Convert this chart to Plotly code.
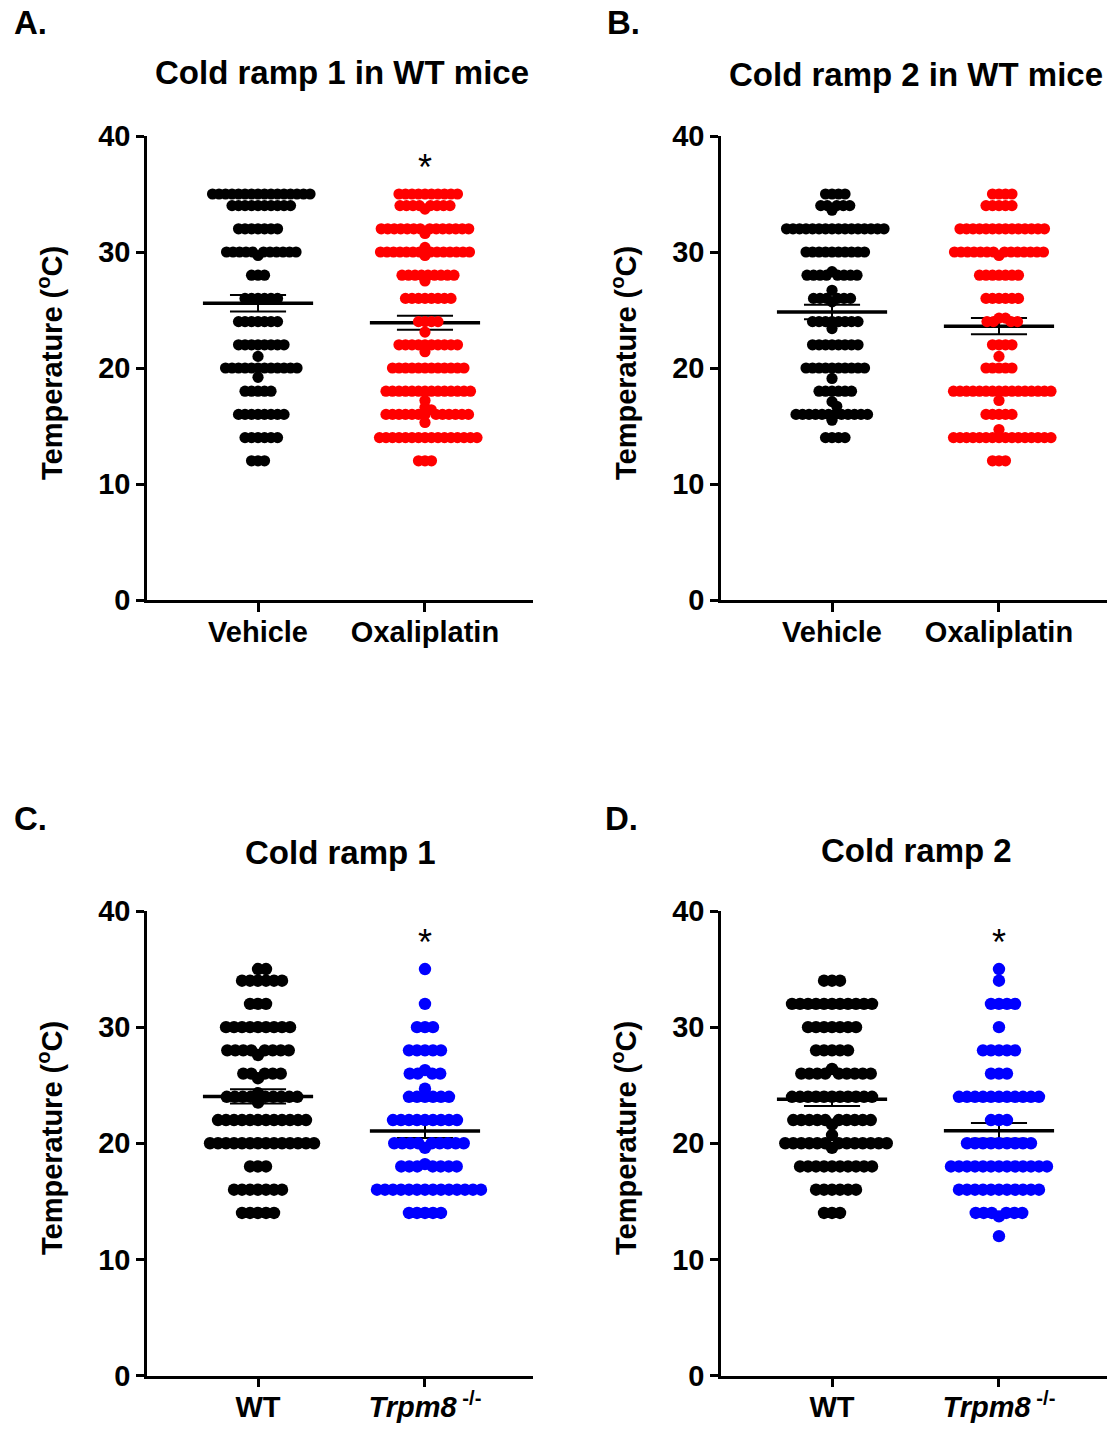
import numpy as np
import plotly.graph_objects as go

FONT = "Arial, Liberation Sans, Helvetica, sans-serif"

# ---------------------------------------------------------------------------
# Withdrawal temperatures (°C): each value and how many readings sit at it
# ---------------------------------------------------------------------------
# A. Cold ramp 1 in WT mice
a_vehicle_temp = [35, 34, 32, 30, 29.7, 28, 26, 24, 22, 21, 20, 19.2, 18, 16, 14, 12]
a_vehicle_n = [16, 10, 7, 11, 1, 3, 6, 7, 8, 1, 12, 1, 5, 8, 6, 3]
a_oxali_temp = [35, 34, 33.7, 32, 31.6, 30.4, 30, 29.7, 28, 27.5, 26, 24, 23.1, 22, 21.4,
                20, 18, 17.2, 16.6, 16.4, 16, 15.3, 14, 12]
a_oxali_n = [10, 8, 1, 14, 1, 1, 14, 1, 9, 1, 8, 4, 1, 10, 1,
             12, 14, 1, 1, 1, 13, 1, 16, 3]

# B. Cold ramp 2 in WT mice
b_vehicle_temp = [35, 34, 33.6, 32, 30, 28.3, 28, 26.7, 26, 25.7, 24, 23.4, 22, 20, 19.1,
                  18, 17.1, 16.7, 16, 15.5, 14]
b_vehicle_n = [4, 5, 1, 16, 10, 1, 8, 1, 6, 1, 8, 1, 8, 10, 1,
               6, 1, 1, 12, 1, 4]
b_oxali_temp = [35, 34, 32, 30, 29.7, 28, 26, 24.3, 24, 22, 21, 20, 18, 17.2, 16, 14.7, 14, 12]
b_oxali_n = [4, 5, 14, 14, 1, 7, 6, 2, 4, 4, 1, 5, 16, 1, 5, 1, 16, 3]

# C. Cold ramp 1, WT vs Trpm8 knockout
c_wt_temp = [35, 34, 32, 30, 28, 27.6, 26, 25.6, 24.3, 24, 23.5, 22, 20, 18, 16, 14]
c_wt_n = [2, 6, 3, 9, 8, 1, 5, 1, 1, 9, 1, 12, 14, 3, 7, 5]
c_ko_temp = [35, 32, 30, 28, 26.3, 26, 24.7, 24, 22, 20, 19.6, 18.2, 18, 16, 14]
c_ko_n = [1, 1, 3, 5, 1, 4, 1, 6, 9, 9, 1, 1, 7, 14, 5]

# D. Cold ramp 2, WT vs Trpm8 knockout
d_wt_temp = [34, 32, 30, 28, 26.4, 26, 24, 22, 21.6, 20.7, 20, 19.6, 18, 16, 14]
d_wt_n = [3, 11, 7, 5, 1, 9, 11, 10, 1, 1, 13, 1, 10, 6, 3]
d_ko_temp = [35, 34, 32, 30, 28, 26, 24, 22, 20, 18, 16, 14, 13.7, 12]
d_ko_n = [1, 1, 4, 1, 5, 3, 11, 3, 9, 13, 11, 6, 1, 1]

# Category labels
wt_mice_groups = ["Vehicle", "Oxaliplatin"]
genotype_groups = ["WT", "<i>Trpm8</i><sup> -/-</sup>"]

# Panel headings
panel_letters = ["A.", "B.", "C.", "D."]
panel_titles = ["Cold ramp 1 in WT mice", "Cold ramp 2 in WT mice", "Cold ramp 1", "Cold ramp 2"]
y_title = "Temperature (<sup>o</sup>C)"

BLACK, RED, BLUE = "#000000", "#FF0000", "#0000FF"

# ---------------------------------------------------------------------------
# Geometry
# ---------------------------------------------------------------------------
W, H = 1109, 1429
X_RANGE = [0.335, 2.647]
Y_RANGE = [0, 40]


def px_x(p):
    return p / W


def px_y(p):
    return 1 - p / H


left_dom = [px_x(147), px_x(533)]
right_dom = [px_x(721), px_x(1107)]
top_dom = [px_y(600), px_y(136)]
bot_dom = [px_y(1375.5), px_y(911)]

AXIS_PX = 386.0
PX_PER_X = AXIS_PX / (X_RANGE[1] - X_RANGE[0])
PX_PER_Y = 464.0 / (Y_RANGE[1] - Y_RANGE[0])


def expand(temps, counts):
    out = []
    for t, n in zip(temps, counts):
        out.extend([t] * n)
    return out


def swarm_offsets(values, gap_px):
    """Horizontal pixel offsets that keep dot centres at least gap_px apart."""
    ys = np.asarray(values, float) * PX_PER_Y
    order = sorted(range(len(ys)),
                   key=lambda i: (abs(values[i] - round(values[i])) < 1e-6, i))
    xs = np.zeros(len(ys))
    placed = []
    for i in order:
        y = ys[i]
        near = [(px, py) for px, py in placed if abs(py - y) < gap_px]
        k, chosen = 0, None
        while chosen is None:
            cands = [0.0] if k == 0 else [k * 0.25, -k * 0.25]
            for c in cands:
                if all((c - px) ** 2 + (y - py) ** 2 >= gap_px ** 2 - 1e-6 for px, py in near):
                    chosen = c
                    break
            k += 1
        xs[i] = chosen
        placed.append((chosen, y))
    return xs


panels = [
    dict(xa="x", ya="y", xd=left_dom, yd=top_dom, labels=wt_mice_groups,
         groups=[(a_vehicle_temp, a_vehicle_n, BLACK), (a_oxali_temp, a_oxali_n, RED)],
         size=11.2, gap=6.5, star=True),
    dict(xa="x2", ya="y2", xd=right_dom, yd=top_dom, labels=wt_mice_groups,
         groups=[(b_vehicle_temp, b_vehicle_n, BLACK), (b_oxali_temp, b_oxali_n, RED)],
         size=11.2, gap=6.5, star=False),
    dict(xa="x3", ya="y3", xd=left_dom, yd=bot_dom, labels=genotype_groups,
         groups=[(c_wt_temp, c_wt_n, BLACK), (c_ko_temp, c_ko_n, BLUE)],
         size=12.4, gap=8.0, star=True),
    dict(xa="x4", ya="y4", xd=right_dom, yd=bot_dom, labels=genotype_groups,
         groups=[(d_wt_temp, d_wt_n, BLACK), (d_ko_temp, d_ko_n, BLUE)],
         size=12.4, gap=8.0, star=True),
]

fig = go.Figure()
layout_axes = {}

MEAN_HALF = 0.33
CAP_HALF = 0.168

for idx, p in enumerate(panels):
    # mean ± SEM drawn first so the dots sit over them
    for gi, (temps, counts, color) in enumerate(p["groups"]):
        vals = np.array(expand(temps, counts), float)
        cat = gi + 1
        mean = vals.mean()
        sem = vals.std(ddof=1) / np.sqrt(len(vals))
        fig.add_trace(go.Scatter(
            x=[cat - MEAN_HALF, cat + MEAN_HALF], y=[mean, mean], mode="lines",
            line=dict(color=BLACK, width=3.5), xaxis=p["xa"], yaxis=p["ya"],
            hoverinfo="skip", showlegend=False))
        fig.add_trace(go.Scatter(
            x=[cat, cat, None, cat - CAP_HALF, cat + CAP_HALF, None, cat - CAP_HALF, cat + CAP_HALF],
            y=[mean - sem, mean + sem, None, mean + sem, mean + sem, None, mean - sem, mean - sem],
            mode="lines", line=dict(color=BLACK, width=2), xaxis=p["xa"], yaxis=p["ya"],
            hoverinfo="skip", showlegend=False))
    for gi, (temps, counts, color) in enumerate(p["groups"]):
        vals = expand(temps, counts)
        offs = swarm_offsets(vals, p["gap"])
        fig.add_trace(go.Scatter(
            x=(gi + 1) + offs / PX_PER_X, y=vals, mode="markers",
            marker=dict(color=color, size=p["size"], line=dict(width=0)),
            xaxis=p["xa"], yaxis=p["ya"], showlegend=False,
            hovertemplate="%{y:.1f} °C<extra></extra>"))

    suffix = "" if idx == 0 else str(idx + 1)
    layout_axes["xaxis" + suffix] = dict(
        domain=p["xd"], range=X_RANGE, anchor=p["ya"], tickmode="array",
        tickvals=[1, 2], ticktext=p["labels"], ticks="outside", ticklen=9,
        tickwidth=2.5, tickcolor=BLACK, showline=True, linewidth=2.5, linecolor=BLACK,
        showgrid=False, zeroline=False, fixedrange=True, automargin=False,
        ticklabelstandoff=-5,
        tickfont=dict(family=FONT, size=29, color=BLACK, weight="bold"))
    layout_axes["yaxis" + suffix] = dict(
        domain=p["yd"], range=Y_RANGE, anchor=p["xa"], tickmode="array",
        tickvals=[0, 10, 20, 30, 40], ticks="outside", ticklen=8, tickwidth=2.5,
        tickcolor=BLACK, showline=True, linewidth=2.5, linecolor=BLACK,
        showgrid=False, zeroline=False, fixedrange=True, automargin=False,
        tickfont=dict(family=FONT, size=29, color=BLACK, weight="bold"))

annotations = []
letter_pos = [(12, 23), (605, 23), (12, 818), (603, 818)]
title_pos = [(341.5, 72), (915.5, 74), (340.5, 852), (916, 851)]
ytitle_pos = [(50, 363), (624, 363), (50, 1138), (624, 1138)]

for i in range(4):
    lx, ly = letter_pos[i]
    annotations.append(dict(
        text=panel_letters[i], x=px_x(lx), y=px_y(ly), xref="paper", yref="paper",
        xanchor="left", yanchor="middle", showarrow=False,
        font=dict(family=FONT, size=33, color=BLACK, weight="bold")))
    tx, ty = title_pos[i]
    annotations.append(dict(
        text=panel_titles[i], x=px_x(tx), y=px_y(ty), xref="paper", yref="paper",
        xanchor="center", yanchor="middle", showarrow=False,
        font=dict(family=FONT, size=33, color=BLACK, weight="bold")))
    yx, yy = ytitle_pos[i]
    annotations.append(dict(
        text=y_title, x=px_x(yx), y=px_y(yy), xref="paper", yref="paper",
        xanchor="center", yanchor="middle", textangle=-90, showarrow=False,
        font=dict(family=FONT, size=29, color=BLACK, weight="bold")))
    if panels[i]["star"]:
        annotations.append(dict(
            text="*", x=2, y=37.3, xref=panels[i]["xa"], yref=panels[i]["ya"],
            xanchor="center", yanchor="middle", showarrow=False,
            font=dict(family=FONT, size=36, color=BLACK)))

fig.update_layout(
    width=W, height=H,
    margin=dict(l=0, r=0, t=0, b=0, pad=0, autoexpand=False),
    paper_bgcolor="white", plot_bgcolor="white", showlegend=False,
    annotations=annotations, **layout_axes)

fig.write_html("out.html")
